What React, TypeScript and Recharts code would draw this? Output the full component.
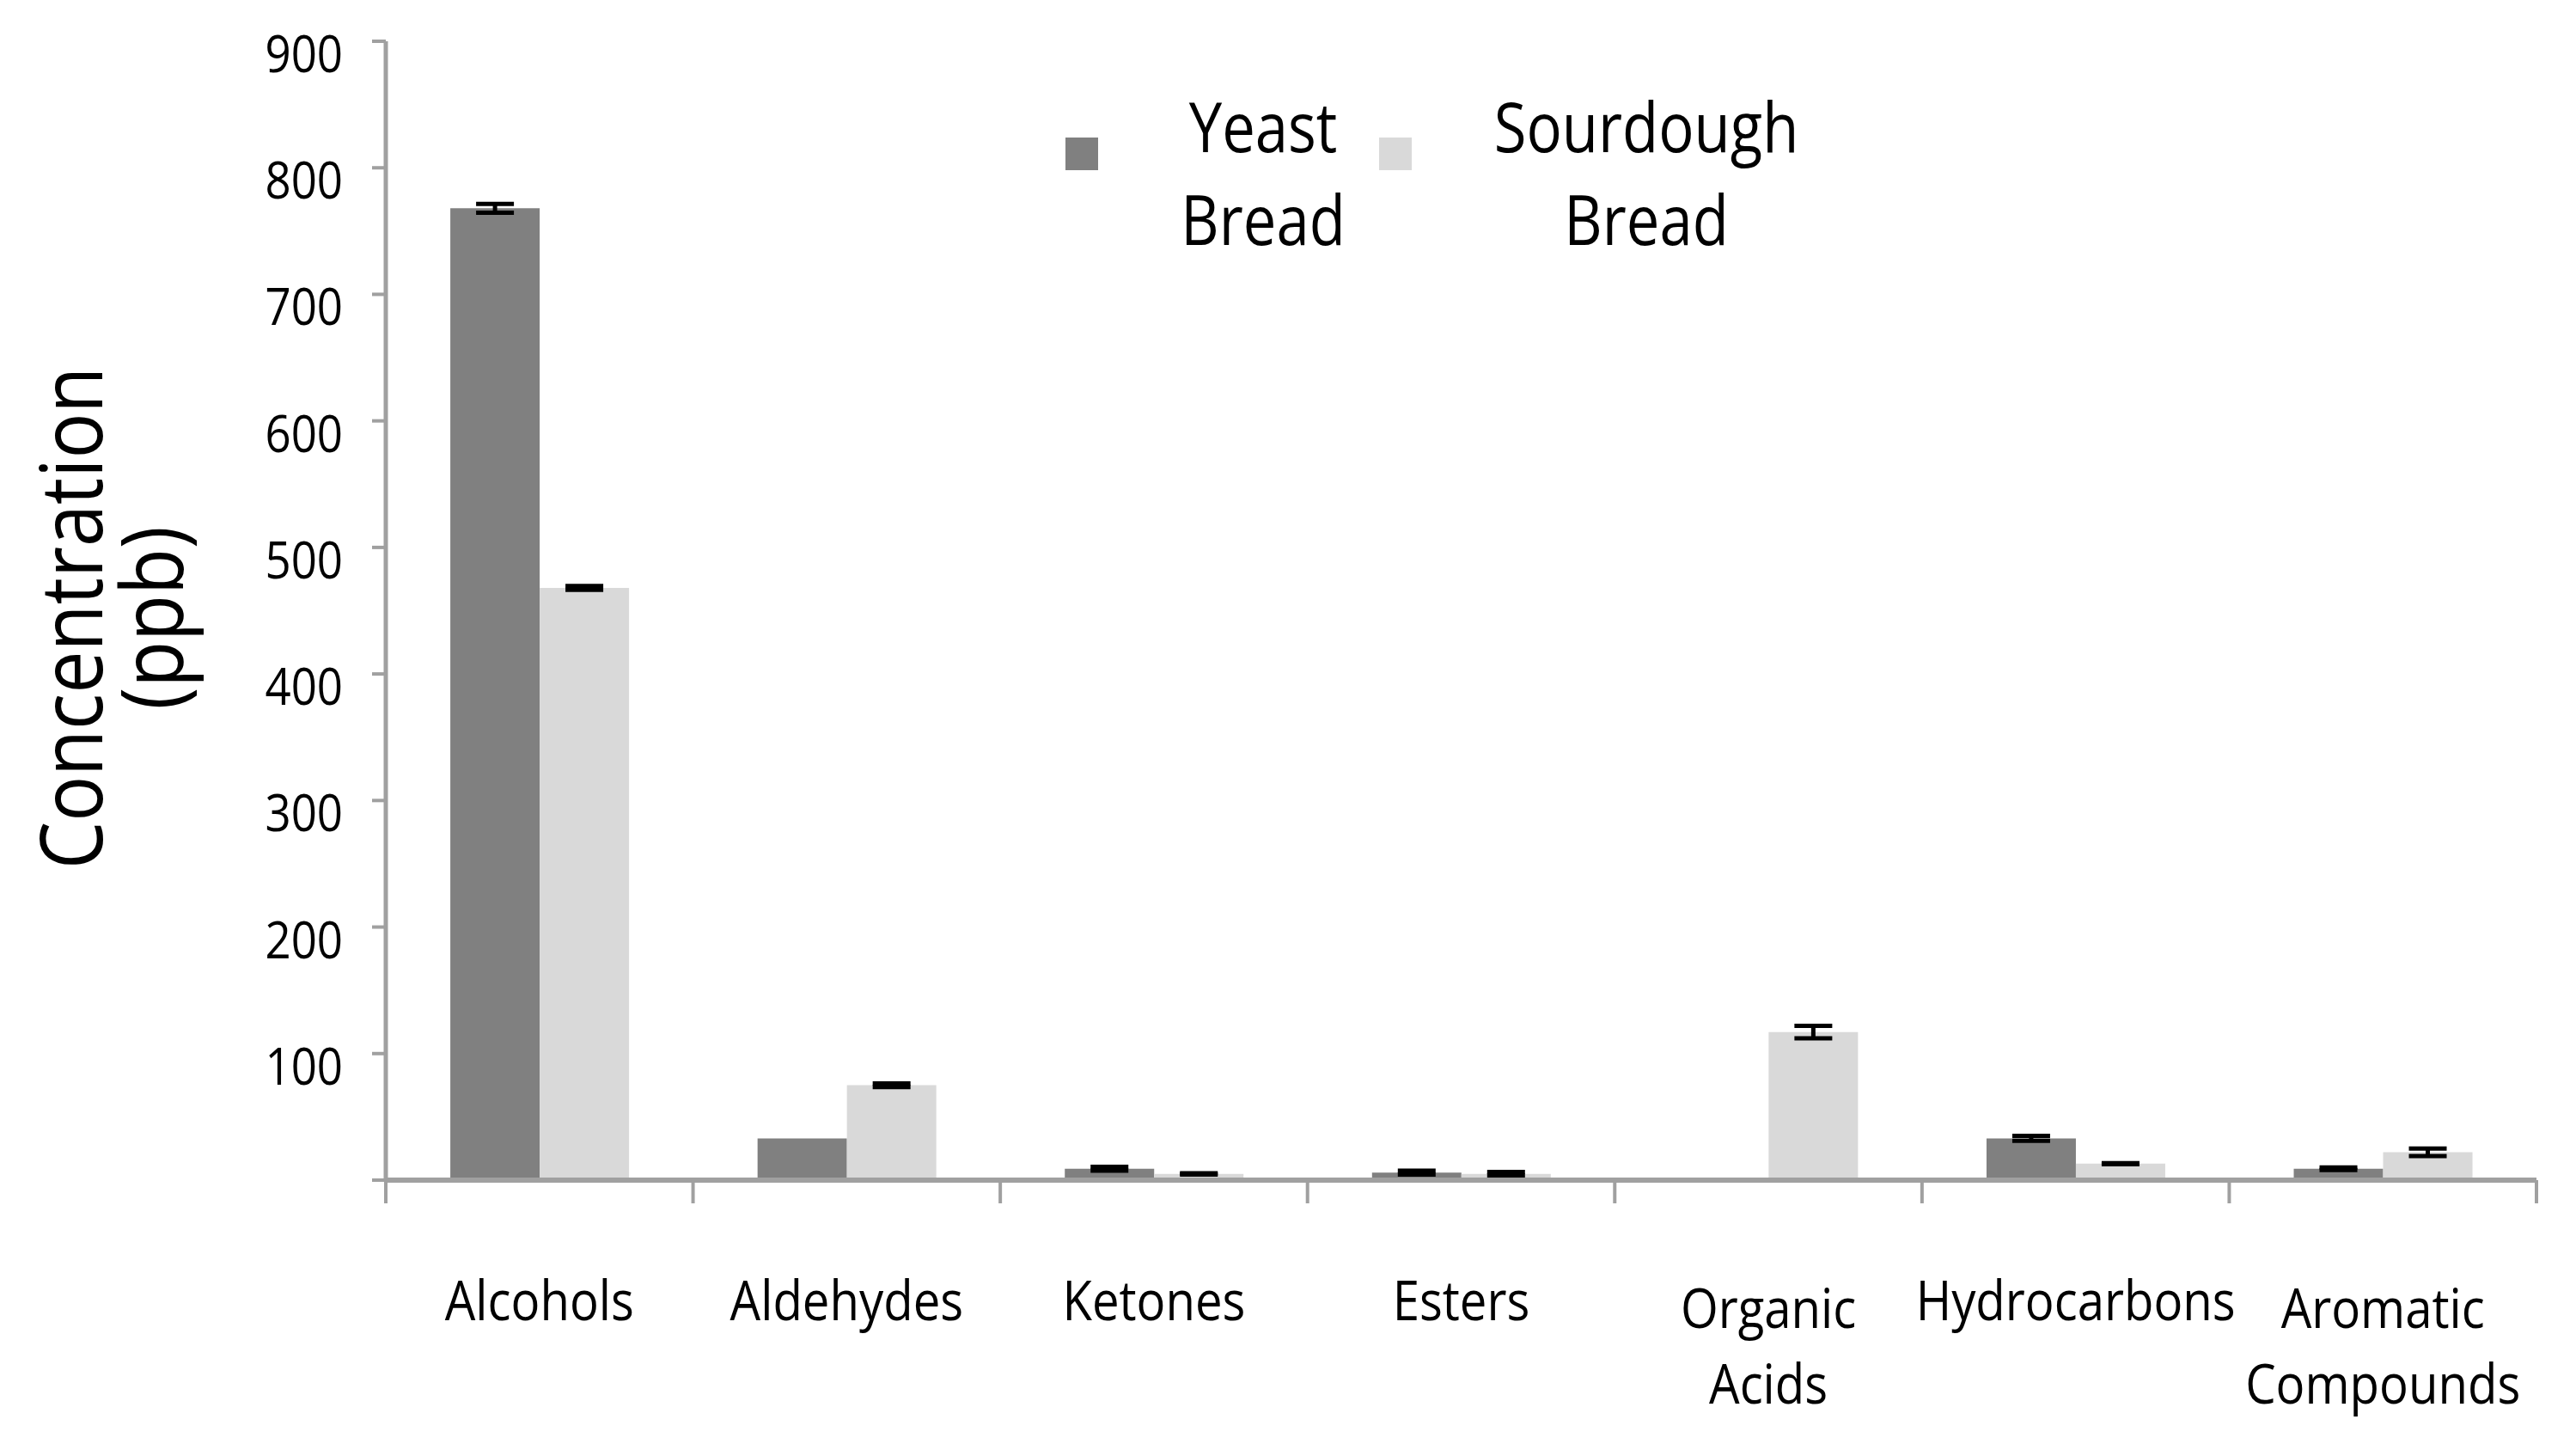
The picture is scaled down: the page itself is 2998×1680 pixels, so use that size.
import { BarChart, Bar, XAxis, YAxis, Legend, ErrorBar } from "recharts";

const categories = [
  "Alcohols",
  "Aldehydes",
  "Ketones",
  "Esters",
  "Organic Acids",
  "Hydrocarbons",
  "Aromatic Compounds",
];
const yeastBread = [768, 33, 9, 6, 0, 33, 9];
const yeastBreadErr = [3.5, 0, 1.5, 1.5, 0, 2, 1];
const sourdoughBread = [468, 75, 5, 5, 117, 13, 22];
const sourdoughBreadErr = [1.5, 1.5, 0.5, 1.5, 5, 0.5, 3];
const yTicks = [0, 100, 200, 300, 400, 500, 600, 700, 800, 900];

const data = categories.map((category, i) => ({
  category,
  yeast: yeastBread[i],
  yeastErr: yeastBreadErr[i],
  sourdough: sourdoughBread[i],
  sourdoughErr: sourdoughBreadErr[i],
}));

const FONT = "'Open Sans', sans-serif";
const NARROW = 0.88; // squeeze Open Sans toward Calibri widths
const AXIS = "#a0a0a0";
const W = 2980;
const H = 1660;
const PLOT_LEFT = 441;
const PLOT_RIGHT = 2944;
const BAND = (PLOT_RIGHT - PLOT_LEFT) / categories.length;

function XTick(props: any) {
  const { x, y, payload, index } = props;
  const lines = String(payload.value).split(" ");
  const first = lines.length > 1 ? 172 : 163;
  return (
    <g>
      <line x1={x - BAND / 2} x2={x - BAND / 2} y1={y} y2={y + 27} stroke={AXIS} strokeWidth={4} />
      {index === categories.length - 1 && (
        <line x1={x + BAND / 2} x2={x + BAND / 2} y1={y} y2={y + 27} stroke={AXIS} strokeWidth={4} />
      )}
      {lines.map((t, i) => (
        <text
          key={i}
          transform={`translate(${x},${y + first + i * 88}) scale(${NARROW},1)`}
          textAnchor="middle"
          fontSize={64}
          fontFamily={FONT}
          fill="#000"
        >
          {t}
        </text>
      ))}
    </g>
  );
}

function YTick(props: any) {
  const { x, y, payload } = props;
  if (payload.value === 0) return <g />;
  return (
    <text
      transform={`translate(${x},${y + 36}) scale(${NARROW},1)`}
      textAnchor="end"
      fontSize={60}
      fontFamily={FONT}
      fill="#000"
    >
      {payload.value}
    </text>
  );
}

function YTitle() {
  return (
    <g fontFamily={FONT} fontSize={100} fill="#000">
      <text transform={`translate(111,711) rotate(-90) scale(${NARROW},1)`} textAnchor="middle">
        Concentration
      </text>
      <text transform={`translate(205,711) rotate(-90) scale(${NARROW},1)`} textAnchor="middle">
        (ppb)
      </text>
    </g>
  );
}

// legend slot per series, in the order the reference shows them
const legendSlots: Record<string, { box: number; text: number }> = {
  yeast: { box: 40, text: 270 },
  sourdough: { box: 405, text: 716 },
};

function LegendContent(props: any) {
  const items = props.payload || [];
  return (
    <svg width={900} height={240}>
      {items.map((item: any) => {
        const slot = legendSlots[item.dataKey];
        if (!slot) return null;
        const words = String(item.value).split(" ");
        return (
          <g key={item.dataKey}>
            <rect x={slot.box} y={80} width={38} height={38} fill={item.color} />
            {words.map((w, j) => (
              <text
                key={j}
                transform={`translate(${slot.text},${97 + j * 108}) scale(0.86,1)`}
                textAnchor="middle"
                fontSize={80}
                fontFamily={FONT}
                fill="#000"
              >
                {w}
              </text>
            ))}
          </g>
        );
      })}
    </svg>
  );
}

export default function App() {
  return (
    <div style={{ width: W, height: H, background: "#fff" }}>
      <BarChart
        width={W}
        height={H}
        data={data}
        margin={{ top: 40, right: W - PLOT_RIGHT, bottom: 0, left: 0 }}
        barCategoryGap="21%"
        barGap={0}
      >
        <XAxis
          dataKey="category"
          height={295}
          interval={0}
          tickLine={false}
          tickSize={0}
          tickMargin={0}
          axisLine={{ stroke: AXIS, strokeWidth: 6 }}
          tick={<XTick />}
        />
        <YAxis
          width={PLOT_LEFT}
          domain={[0, 900]}
          ticks={yTicks}
          interval={0}
          tickSize={16}
          tickMargin={34}
          axisLine={{ stroke: AXIS, strokeWidth: 5 }}
          tickLine={{ stroke: AXIS, strokeWidth: 4 }}
          tick={<YTick />}
          label={{ content: () => <YTitle /> }}
        />
        <Legend
          layout="horizontal"
          verticalAlign="middle"
          align="center"
          wrapperStyle={{ left: 1192, top: 72, width: 900, height: 240 }}
          content={<LegendContent />}
        />
        <Bar dataKey="yeast" name="Yeast Bread" fill="#808080" isAnimationActive={false}>
          <ErrorBar dataKey="yeastErr" direction="y" width={22} strokeWidth={5} stroke="#000" isAnimationActive={false} />
        </Bar>
        <Bar dataKey="sourdough" name="Sourdough Bread" fill="#d9d9d9" isAnimationActive={false}>
          <ErrorBar dataKey="sourdoughErr" direction="y" width={22} strokeWidth={5} stroke="#000" isAnimationActive={false} />
        </Bar>
      </BarChart>
    </div>
  );
}
